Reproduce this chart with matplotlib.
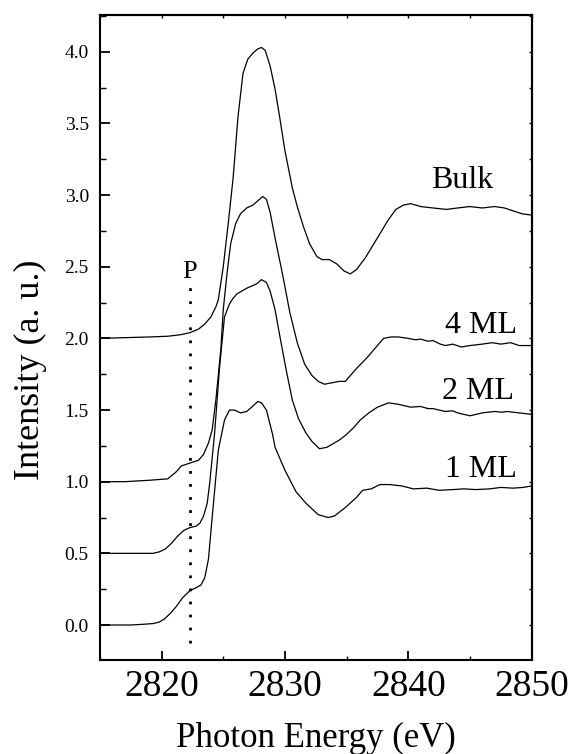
import matplotlib
matplotlib.use("Agg")
import matplotlib.pyplot as plt
from matplotlib.ticker import MultipleLocator, FormatStrFormatter

plt.rcParams['font.family'] = ['Liberation Serif', 'DejaVu Serif']

# ---------------- data ----------------
bulk_x = [2815, 2817, 2819, 2820.5, 2821.5, 2822.3, 2823.0, 2823.5, 2824.0, 2824.4,
          2824.6, 2825.0, 2825.4, 2825.8, 2826.2, 2826.6, 2827.0, 2827.4, 2827.8, 2828.1,
          2828.4, 2828.8, 2829.2, 2829.6, 2830.0, 2830.6, 2831.0, 2831.5, 2832.0, 2832.6,
          2833.0, 2833.6, 2834.2, 2834.8, 2835.3, 2835.8, 2836.5, 2837.0, 2837.7, 2838.4,
          2839.0, 2839.6, 2840.2, 2841.0, 2842.0, 2843.1, 2844.0, 2845.0, 2846.0, 2847.0,
          2847.8, 2848.5, 2849.2, 2850]
bulk_y = [2.00, 2.005, 2.01, 2.015, 2.025, 2.04, 2.065, 2.10, 2.15, 2.22,
          2.27, 2.50, 2.80, 3.12, 3.55, 3.85, 3.95, 3.99, 4.02, 4.03,
          4.01, 3.90, 3.74, 3.53, 3.31, 3.05, 2.92, 2.78, 2.66, 2.57,
          2.55, 2.55, 2.52, 2.47, 2.45, 2.48, 2.56, 2.63, 2.73, 2.83,
          2.90, 2.93, 2.94, 2.92, 2.91, 2.90, 2.91, 2.92, 2.91, 2.92,
          2.91, 2.89, 2.87, 2.86]

ml4_x = [2815, 2817, 2819, 2820.5, 2821.2, 2821.6, 2822.3, 2823.0, 2823.4, 2823.8,
         2824.1, 2824.4, 2824.8, 2825.0, 2825.3, 2825.6, 2826.0, 2826.4, 2826.9, 2827.4,
         2827.8, 2828.2, 2828.5, 2828.8, 2829.2, 2829.8, 2830.4, 2831.0, 2831.6, 2832.2,
         2832.7, 2833.2, 2833.8, 2834.4, 2834.9, 2835.3, 2835.8, 2836.6, 2837.3, 2838.0,
         2838.6, 2839.2, 2840.0, 2840.6, 2841.0, 2841.6, 2842.0, 2842.6, 2843.0, 2843.6,
         2844.3, 2845.0, 2845.5, 2846.0, 2846.8, 2847.5, 2848.3, 2849.0, 2850]
ml4_y = [1.00, 1.00, 1.01, 1.02, 1.07, 1.11, 1.13, 1.15, 1.19, 1.27,
         1.36, 1.57, 1.92, 2.20, 2.45, 2.66, 2.80, 2.87, 2.91, 2.93,
         2.96, 2.99, 2.97, 2.88, 2.70, 2.45, 2.18, 1.97, 1.82, 1.74,
         1.70, 1.68, 1.69, 1.70, 1.70, 1.74, 1.79, 1.86, 1.93, 2.00,
         2.01, 2.01, 2.00, 1.99, 1.995, 1.98, 1.985, 1.96, 1.95, 1.96,
         1.94, 1.95, 1.955, 1.96, 1.97, 1.96, 1.97, 1.95, 1.95]

ml2_x = [2815, 2817, 2818.5, 2819.3, 2819.8, 2820.3, 2820.8, 2821.3, 2821.8, 2822.3,
         2822.8, 2823.1, 2823.4, 2823.7, 2823.9, 2824.3, 2824.7, 2825.1, 2825.5, 2825.8,
         2826.1, 2826.9, 2827.7, 2828.1, 2828.5, 2828.8, 2829.2, 2829.6, 2830.1, 2830.6,
         2831.1, 2831.7, 2832.2, 2832.8, 2833.4, 2834.0, 2834.4, 2835.0, 2835.6, 2836.1,
         2836.8, 2837.5, 2838.4, 2839.2, 2840.2, 2841.0, 2841.6, 2842.0, 2843.0, 2843.6,
         2844.0, 2845.0, 2845.5, 2846.0, 2847.0, 2847.6, 2848.0, 2849.0, 2850]
ml2_y = [0.50, 0.50, 0.50, 0.50, 0.51, 0.53, 0.57, 0.62, 0.66, 0.68,
         0.69, 0.71, 0.76, 0.85, 0.99, 1.34, 1.80, 2.15, 2.24, 2.28,
         2.31, 2.35, 2.38, 2.41, 2.39, 2.33, 2.20, 2.01, 1.78, 1.57,
         1.44, 1.34, 1.28, 1.23, 1.24, 1.27, 1.29, 1.33, 1.38, 1.43,
         1.48, 1.52, 1.55, 1.54, 1.52, 1.525, 1.51, 1.51, 1.49, 1.495,
         1.48, 1.46, 1.47, 1.48, 1.49, 1.485, 1.49, 1.48, 1.47]

ml1_x = [2815, 2816.5, 2817.5, 2818.5, 2819.3, 2819.8, 2820.2, 2820.7, 2821.2, 2821.7,
         2822.3, 2822.8, 2823.2, 2823.5, 2823.8, 2824.1, 2824.6, 2825.1, 2825.5, 2825.9,
         2826.4, 2826.9, 2827.3, 2827.8, 2828.1, 2828.5, 2829.0, 2829.2, 2830.0, 2830.9,
         2831.7, 2832.7, 2833.5, 2834.0, 2834.9, 2835.8, 2836.3, 2837.0, 2837.7, 2838.5,
         2839.5, 2840.4, 2841.5, 2842.5, 2843.6, 2844.5, 2845.5, 2846.6, 2847.5, 2848.5,
         2849.3, 2850]
ml1_y = [0.00, 0.00, 0.00, 0.005, 0.01, 0.02, 0.04, 0.08, 0.13, 0.19,
         0.24, 0.26, 0.28, 0.33, 0.46, 0.75, 1.22, 1.43, 1.50, 1.50,
         1.48, 1.49, 1.52, 1.56, 1.55, 1.50, 1.33, 1.24, 1.08, 0.93,
         0.85, 0.77, 0.75, 0.76, 0.82, 0.89, 0.94, 0.95, 0.98, 0.98,
         0.97, 0.95, 0.955, 0.94, 0.945, 0.95, 0.945, 0.95, 0.96, 0.955,
         0.96, 0.97]

labels = ["Bulk", "4 ML", "2 ML", "1 ML"]
label_x = [2846.9, 2848.8, 2848.6, 2848.8]
label_y = [3.05, 2.04, 1.58, 1.03]

p_energy = 2822.3
p_range = [-0.125, 2.36]

x_ticks = [2820, 2830, 2840, 2850]
y_ticks = [0.0, 0.5, 1.0, 1.5, 2.0, 2.5, 3.0, 3.5, 4.0]

# ---------------- figure ----------------
fig = plt.figure(figsize=(5.71, 7.54), dpi=100)
ax = fig.add_axes([0.175, 0.1247, 0.756, 0.8553])

lw = 0.9
for xs, ys in [(bulk_x, bulk_y), (ml4_x, ml4_y), (ml2_x, ml2_y), (ml1_x, ml1_y)]:
    ax.plot(xs, ys, color='black', lw=lw)

ax.plot([p_energy, p_energy], p_range, color='black', lw=2.0,
        linestyle=(0, (1, 3.7)))
ax.text(p_energy, 2.42, "P", ha='center', va='baseline', fontsize=19)

for t, lx, ly in zip(labels, label_x, label_y):
    ax.text(lx, ly, t, ha='right', va='baseline', fontsize=23)

ax.set_xlim(2815, 2850)
ax.set_ylim(-0.244, 4.256)

ax.xaxis.set_minor_locator(MultipleLocator(5))
ax.yaxis.set_minor_locator(MultipleLocator(0.25))
ax.set_xticks(x_ticks)
ax.set_yticks(y_ticks)
ax.yaxis.set_major_formatter(FormatStrFormatter('%.1f'))

for s in ax.spines.values():
    s.set_linewidth(1.5)

ax.tick_params(axis='x', which='major', direction='in', length=6.5, width=1.3,
               labelsize=27, pad=7)
ax.tick_params(axis='x', which='minor', direction='in', length=3, width=1.0)
ax.tick_params(axis='y', which='major', direction='in', length=7, width=1.3,
               labelsize=14, pad=8)
ax.tick_params(axis='y', which='minor', direction='in', length=4.3, width=1.0)

# short ticks on top and right
secx = ax.secondary_xaxis('top')
secx.xaxis.set_major_locator(MultipleLocator(5))
secx.tick_params(direction='in', length=2, width=1.0, labeltop=False)
secx.spines['top'].set_linewidth(1.5)
secy = ax.secondary_yaxis('right')
secy.yaxis.set_major_locator(MultipleLocator(0.25))
secy.tick_params(direction='in', length=2, width=1.0, labelright=False)
secy.spines['right'].set_linewidth(1.5)

fig.text(30 / 571, 1 - 370 / 754, "Intensity (a. u.)", rotation=90,
         ha='center', va='center', fontsize=26)
fig.text(316 / 571, 1 - 747 / 754, "Photon Energy (eV)", ha='center',
         va='baseline', fontsize=25)

fig.savefig("out.png", dpi=100)
